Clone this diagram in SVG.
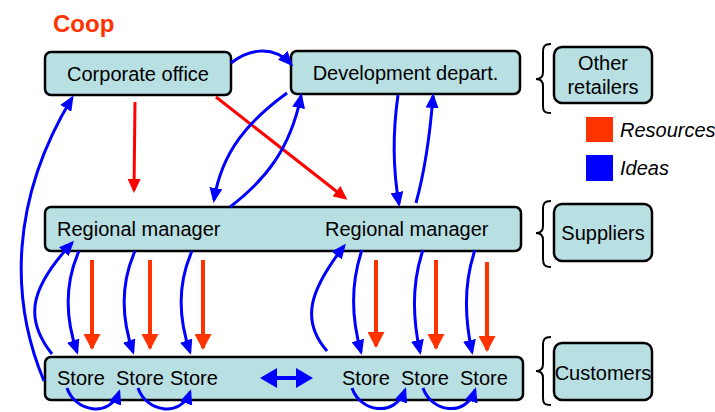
<svg xmlns="http://www.w3.org/2000/svg" width="715" height="412" viewBox="0 0 715 412">
<defs>
<style>
.box{fill:#B8DFE2;stroke:#000;stroke-width:2.5}
.t{font-family:"Liberation Sans",Arial,sans-serif;font-size:20px;fill:#000}
.blue{fill:none;stroke:#0000FF;stroke-width:3;marker-end:url(#ab)}
.red{fill:none;stroke:#FF0000;stroke-width:3;marker-end:url(#ar)}
.org{fill:none;stroke:#FF3300;stroke-width:4;marker-end:url(#ao)}
.brace{fill:none;stroke:#000;stroke-width:2}
</style>
<marker id="ab" markerUnits="userSpaceOnUse" markerWidth="15" markerHeight="13" refX="12" refY="6.5" orient="auto"><path d="M0,0 L15,6.5 L0,13 z" fill="#0000FF"/></marker>
<marker id="ar" markerUnits="userSpaceOnUse" markerWidth="14" markerHeight="13" refX="11" refY="6.5" orient="auto"><path d="M0,0 L14,6.5 L0,13 z" fill="#FF0000"/></marker>
<marker id="ao" markerUnits="userSpaceOnUse" markerWidth="16" markerHeight="17" refX="14" refY="8.5" orient="auto"><path d="M0,0 L16,8.5 L0,17 z" fill="#FF3300"/></marker>
<marker id="abig" markerUnits="userSpaceOnUse" markerWidth="17" markerHeight="20" refX="14" refY="10" orient="auto-start-reverse"><path d="M0,0 L17,10 L0,20 z" fill="#0000FF"/></marker>
</defs>
<rect width="715" height="412" fill="#fff"/>
<text x="53" y="32" font-family="Liberation Sans,Arial,sans-serif" font-size="24" font-weight="bold" fill="#FF3300">Coop</text>

<g id="corporate"><rect class="box" x="45" y="52" width="186" height="43" rx="6"/><text class="t" x="138" y="81" text-anchor="middle">Corporate office</text></g>
<g id="development"><rect class="box" x="291" y="51" width="229" height="43" rx="6"/><text class="t" x="405.5" y="80" text-anchor="middle">Development depart.</text></g>
<g id="other-retailers"><rect class="box" x="554" y="47" width="98" height="56" rx="8"/><text class="t" x="603" y="70" text-anchor="middle">Other</text><text class="t" x="603" y="94" text-anchor="middle">retailers</text><path class="brace" d="M551,44 C544,44 543,47 543,52 L543,72 C543,77 541,79 536,79 C541,79 543,81 543,86 L543,106 C543,111 544,113 551,113"/></g>
<g id="regional"><rect class="box" x="45" y="207" width="476" height="44" rx="6"/><text class="t" x="57" y="236">Regional manager</text><text class="t" x="325" y="236">Regional manager</text></g>
<g id="suppliers"><rect class="box" x="554" y="204" width="98" height="57" rx="8"/><text class="t" x="603" y="240" text-anchor="middle">Suppliers</text><path class="brace" d="M551,201 C544,201 543,204 543,209 L543,226 C543,231 541,233 536,233 C541,233 543,235 543,240 L543,259 C543,264 544,267 551,267"/></g>
<g id="stores"><rect class="box" x="45" y="357" width="478" height="43" rx="6"/><text class="t" x="57" y="385">Store</text><text class="t" x="116" y="385">Store</text><text class="t" x="170" y="385">Store</text><text class="t" x="342" y="385">Store</text><text class="t" x="401" y="385">Store</text><text class="t" x="460" y="385">Store</text></g>
<g id="customers"><rect class="box" x="554" y="343" width="98" height="57" rx="8"/><text class="t" x="603" y="380" text-anchor="middle">Customers</text><path class="brace" d="M551,337 C544,337 543,340 543,345 L543,364 C543,369 541,371 536,371 C541,371 543,373 543,378 L543,398 C543,403 544,405 551,405"/></g>
<g id="legend"><rect x="586" y="117" width="27" height="25" fill="#FF3300"/><text class="t" x="620" y="137" font-style="italic">Resources</text><rect x="586" y="155" width="27" height="26" fill="#0000FF"/><text class="t" x="620" y="175" font-style="italic">Ideas</text></g>

<g id="connectors">
<path class="blue" d="M231,63 C248,50 272,44 291,64"/>
<path class="red" d="M135,102 L134,190"/>
<path class="red" d="M216,97 L345,198"/>
<path class="blue" d="M287,93 C250,120 222,150 214,200"/>
<path class="blue" d="M230,207 C265,180 290,150 301,96"/>
<path class="blue" d="M398,95 C393,130 393,170 399,204"/>
<path class="blue" d="M416,203 C425,170 430,135 433,96"/>
<path class="blue" d="M44,381 C10,300 10,200 72,98"/>
<path class="blue" d="M52,354 C25,320 28,290 72,243"/>
<path class="blue" d="M79,251 C64,285 66,320 77,352"/>
<path class="blue" d="M135,251 C120,285 122,320 133,352"/>
<path class="blue" d="M192,251 C177,285 179,320 190,352"/>
<path class="org" d="M92,260 L92,348"/>
<path class="org" d="M150,260 L150,348"/>
<path class="org" d="M203,260 L203,348"/>
<path class="org" d="M376,260 L376,346"/>
<path class="org" d="M436,260 L436,348"/>
<path class="org" d="M487,262 L487,350"/>
<path d="M263,378 L310,378" fill="none" stroke="#0000FF" stroke-width="4" marker-start="url(#abig)" marker-end="url(#abig)"/>
<path class="blue" d="M67,388 C75,412 110,418 119,392"/>
<path class="blue" d="M138,388 C146,412 181,418 190,392"/>
<path class="blue" d="M352,388 C360,412 395,418 405,390"/>
<path class="blue" d="M423,388 C431,412 466,418 475,390"/>
<path class="blue" d="M327,351 C300,320 310,290 344,246"/>
<path class="blue" d="M362,250 C350,285 352,320 361,352"/>
<path class="blue" d="M423,250 C411,285 413,320 420,352"/>
<path class="blue" d="M475,250 C463,285 465,320 472,352"/>
</g>
</svg>
